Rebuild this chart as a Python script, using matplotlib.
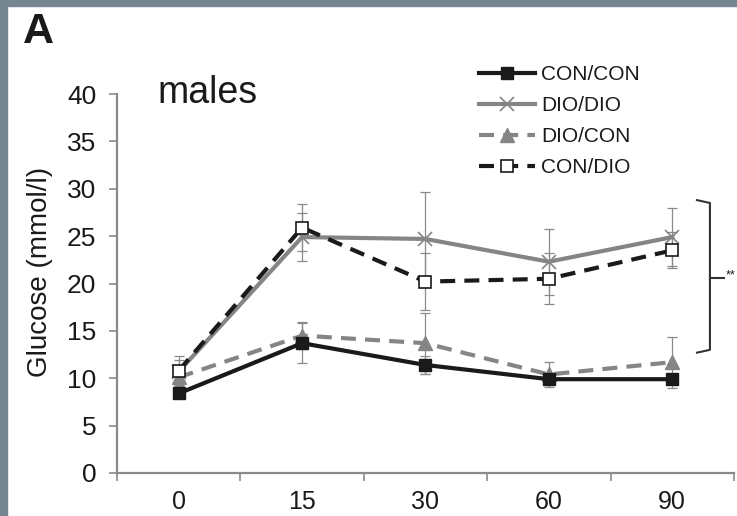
import matplotlib
matplotlib.use("Agg")
import matplotlib.pyplot as plt
from matplotlib.patches import Rectangle
import numpy as np

plt.rcParams['font.family'] = ['Liberation Sans', 'DejaVu Sans']

time_labels = ["0", "15", "30", "60", "90"]
series_names = ["CON/CON", "DIO/DIO", "DIO/CON", "CON/DIO"]

con_con = [8.4, 13.7, 11.4, 9.9, 9.9]
con_con_err = [0.5, 2.1, 1.0, 0.4, 0.4]
dio_dio = [10.7, 24.9, 24.7, 22.3, 24.9]
dio_dio_err = [1.2, 2.5, 5.0, 3.5, 3.1]
dio_con = [10.1, 14.5, 13.7, 10.4, 11.7]
dio_con_err = [0.8, 1.4, 3.2, 1.3, 2.7]
con_dio = [10.8, 25.9, 20.2, 20.5, 23.5]
con_dio_err = [1.6, 2.5, 3.0, 2.7, 1.9]

W, H = 737, 516
fig = plt.figure(figsize=(W / 100, H / 100), dpi=100)
fig.patch.set_facecolor("white")

# slide-like gray border
border = "#768690"
fig.patches.append(Rectangle((0, 0), 7 / W, 1, transform=fig.transFigure, color=border, zorder=0))
fig.patches.append(Rectangle((0, 1 - 6 / H), 1, 6 / H, transform=fig.transFigure, color=border, zorder=0))

ax = fig.add_axes([117 / W, 1 - 473 / H, (734 - 117) / W, (473 - 94) / H])
ax.set_facecolor("none")

x = np.arange(len(time_labels))
black = "#1a1a1a"
gray = "#858585"
ecol = "#8a8a8a"
lw = 3.0

def err(vals, errs):
    ax.errorbar(x, vals, yerr=errs, fmt="none", ecolor=ecol, elinewidth=0.9,
                capsize=3.5, capthick=0.9, zorder=2)

err(dio_dio, dio_dio_err)
err(con_dio, con_dio_err)
err(dio_con, dio_con_err)
err(con_con, con_con_err)

ms = 9
l1, = ax.plot(x, con_con, color=black, lw=lw, marker="s", ms=ms, mfc=black, mec=black, zorder=6, label=series_names[0])
l2, = ax.plot(x, dio_dio, color=gray, lw=lw, marker="x", ms=ms + 1, mew=1.2, mec=gray, zorder=4, label=series_names[1])
l3, = ax.plot(x, dio_con, color=gray, lw=lw, ls=(0, (3.6, 2.2)), marker="^", ms=ms + 1, mfc=gray, mec=gray, zorder=5, label=series_names[2])
l4, = ax.plot(x, con_dio, color=black, lw=lw, ls=(0, (3.6, 2.2)), marker="s", ms=ms, mfc="white", mec=black, mew=1.2, zorder=7, label=series_names[3])

ax.set_xlim(-0.5, len(time_labels) - 0.5)
ax.set_ylim(0, 40)
ax.set_yticks(np.arange(0, 41, 5))
ax.set_xticks(x)
ax.set_xticklabels(time_labels)
ax.set_xticks(np.arange(-0.5, len(time_labels), 1.0), minor=True)

for s in ["top", "right"]:
    ax.spines[s].set_visible(False)
for s in ["left", "bottom"]:
    ax.spines[s].set_color(ecol)
    ax.spines[s].set_linewidth(1.6)

ax.tick_params(axis="y", which="major", length=6, width=1.2, color=ecol, labelsize=19, pad=9, labelcolor="#1a1a1a")
ax.tick_params(axis="x", which="major", length=0, labelsize=18, pad=12, labelcolor="#1a1a1a")
ax.tick_params(axis="x", which="minor", length=5.5, width=1.2, color=ecol)

fig.text(40 / W, 1 - 272 / H, "Glucose (mmol/l)", rotation=90, ha="center", va="center", fontsize=20, color="#1a1a1a")
fig.text(157 / W, 1 - 103 / H, "males", ha="left", va="baseline", fontsize=27, color="#1a1a1a")
fig.text(23 / W, 1 - 43 / H, "A", ha="left", va="baseline", fontsize=31, fontweight="bold", color="#1a1a1a")

leg = ax.legend(handles=[l1, l2, l3, l4], loc="upper left",
                bbox_to_anchor=((479 - 117) / 617, (473 - 65) / 379),
                frameon=False, fontsize=15, handlelength=2.7, handletextpad=0.3,
                labelspacing=0.58, borderaxespad=0, borderpad=0)
for t in leg.get_texts():
    t.set_color("#1a1a1a")

# bracket with significance mark
bx0, bx1, bxt = 4.2, 4.305, 4.42
ytop, ybot, ymid = 28.8, 12.7, 20.6
ax.plot([bx0, bx1, bx1, bx0], [ytop, ytop - 0.3, ybot + 0.3, ybot], color="#333333", lw=1.5, clip_on=False, solid_joinstyle="round")
ax.plot([bx1, bxt], [ymid, ymid], color="#333333", lw=1.5, clip_on=False)
ax.text(4.43, ymid + 0.3, "**", fontsize=9, ha="left", va="center", color="#1a1a1a", clip_on=False)

fig.savefig("out.png", dpi=100, facecolor=fig.get_facecolor())
